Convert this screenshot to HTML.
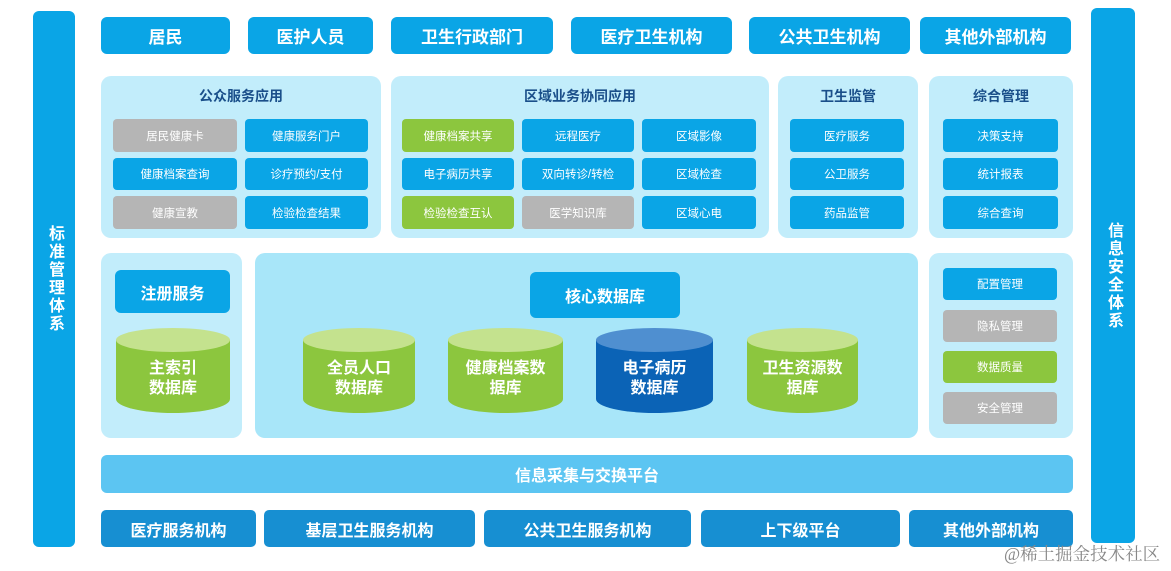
<!DOCTYPE html>
<html><head><meta charset="utf-8"><style>
body{margin:0;width:1171px;height:571px;background:#fff;position:relative;overflow:hidden;font-family:"Liberation Sans","Noto Sans CJK SC",sans-serif;}
.a{position:absolute;box-sizing:border-box;display:flex;align-items:center;justify-content:center;text-align:center;}
.t{background:#0aa5e6;color:#fff;font-weight:bold;font-size:17px;border-radius:6px;}
.p{background:#c2edfb;border-radius:10px;}
.h{color:#1a4f8a;font-weight:bold;font-size:14px;}
.s{color:#fff;font-size:11.5px;border-radius:4px;background:#0aa5e6;}
.g{background:#b5b5b5;}
.gr{background:#8cc63e;}
.v{background:#0aa5e6;color:#fff;font-weight:bold;font-size:16px;border-radius:6px;writing-mode:vertical-rl;letter-spacing:2px;}
.b{background:#178fd2;color:#fff;font-weight:bold;font-size:16px;border-radius:5px;}
.cyl{position:absolute;}
.cyl .body{position:absolute;left:0;right:0;top:12px;bottom:0;border-radius:0 0 50% 50%/0 0 14px 14px;}
.cyl .top{position:absolute;left:0;right:0;top:0;height:24px;border-radius:50%;}
.cyl .lb{position:absolute;left:0;right:0;top:26px;bottom:10px;display:flex;align-items:center;justify-content:center;color:#fff;font-weight:bold;font-size:16px;line-height:20px;text-align:center;}
.gc .body{background:#8cc63e}.gc .top{background:#c4e28e}
.bc .body{background:#0b63b6}.bc .top{background:#4f8fd0}
</style></head><body>
<div class="a v" style="left:33px;top:11px;width:42px;height:536px;">标准管理体系</div>
<div class="a v" style="left:1091px;top:8px;width:44px;height:535px;">信息安全体系</div>

<div class="a t" style="left:101px;top:17px;width:129px;height:37px;">居民</div>
<div class="a t" style="left:248px;top:17px;width:125px;height:37px;">医护人员</div>
<div class="a t" style="left:391px;top:17px;width:162px;height:37px;">卫生行政部门</div>
<div class="a t" style="left:571px;top:17px;width:161px;height:37px;">医疗卫生机构</div>
<div class="a t" style="left:749px;top:17px;width:161px;height:37px;">公共卫生机构</div>
<div class="a t" style="left:920px;top:17px;width:151px;height:37px;">其他外部机构</div>

<div class="a p" style="left:101px;top:76px;width:280px;height:162px;"></div>
<div class="a p" style="left:391px;top:76px;width:378px;height:162px;"></div>
<div class="a p" style="left:778px;top:76px;width:140px;height:162px;"></div>
<div class="a p" style="left:929px;top:76px;width:144px;height:162px;"></div>
<div class="a h" style="left:101px;top:86px;width:280px;height:20px;">公众服务应用</div>
<div class="a h" style="left:391px;top:86px;width:378px;height:20px;">区域业务协同应用</div>
<div class="a h" style="left:778px;top:86px;width:140px;height:20px;">卫生监管</div>
<div class="a h" style="left:929px;top:86px;width:144px;height:20px;">综合管理</div>

<div class="a s g" style="left:113px;top:119px;width:124px;height:33px;">居民健康卡</div>
<div class="a s" style="left:245px;top:119px;width:123px;height:33px;">健康服务门户</div>
<div class="a s" style="left:113px;top:158px;width:124px;height:32px;">健康档案查询</div>
<div class="a s" style="left:245px;top:158px;width:123px;height:32px;">诊疗预约/支付</div>
<div class="a s g" style="left:113px;top:196px;width:124px;height:33px;">健康宣教</div>
<div class="a s" style="left:245px;top:196px;width:123px;height:33px;">检验检查结果</div>

<div class="a s gr" style="left:402px;top:119px;width:112px;height:33px;">健康档案共享</div>
<div class="a s" style="left:522px;top:119px;width:112px;height:33px;">远程医疗</div>
<div class="a s" style="left:642px;top:119px;width:114px;height:33px;">区域影像</div>
<div class="a s" style="left:402px;top:158px;width:112px;height:32px;">电子病历共享</div>
<div class="a s" style="left:522px;top:158px;width:112px;height:32px;">双向转诊/转检</div>
<div class="a s" style="left:642px;top:158px;width:114px;height:32px;">区域检查</div>
<div class="a s gr" style="left:402px;top:196px;width:112px;height:33px;">检验检查互认</div>
<div class="a s g" style="left:522px;top:196px;width:112px;height:33px;">医学知识库</div>
<div class="a s" style="left:642px;top:196px;width:114px;height:33px;">区域心电</div>

<div class="a s" style="left:790px;top:119px;width:114px;height:33px;">医疗服务</div>
<div class="a s" style="left:790px;top:158px;width:114px;height:32px;">公卫服务</div>
<div class="a s" style="left:790px;top:196px;width:114px;height:33px;">药品监管</div>
<div class="a s" style="left:943px;top:119px;width:115px;height:33px;">决策支持</div>
<div class="a s" style="left:943px;top:158px;width:115px;height:32px;">统计报表</div>
<div class="a s" style="left:943px;top:196px;width:115px;height:33px;">综合查询</div>

<div class="a p" style="left:101px;top:253px;width:141px;height:185px;"></div>
<div class="a p" style="left:255px;top:253px;width:663px;height:185px;background:#a8e6f9;"></div>
<div class="a p" style="left:929px;top:253px;width:144px;height:185px;"></div>

<div class="a t" style="left:115px;top:270px;width:115px;height:43px;font-size:16px;">注册服务</div>
<div class="a t" style="left:530px;top:272px;width:150px;height:46px;font-size:16px;">核心数据库</div>

<div class="cyl gc" style="left:116px;top:328px;width:114px;height:85px;"><div class="body"></div><div class="top"></div><div class="lb">主索引<br>数据库</div></div>
<div class="cyl gc" style="left:303px;top:328px;width:112px;height:85px;"><div class="body"></div><div class="top"></div><div class="lb">全员人口<br>数据库</div></div>
<div class="cyl gc" style="left:448px;top:328px;width:115px;height:85px;"><div class="body"></div><div class="top"></div><div class="lb">健康档案数<br>据库</div></div>
<div class="cyl bc" style="left:596px;top:328px;width:117px;height:85px;"><div class="body"></div><div class="top"></div><div class="lb">电子病历<br>数据库</div></div>
<div class="cyl gc" style="left:747px;top:328px;width:111px;height:85px;"><div class="body"></div><div class="top"></div><div class="lb">卫生资源数<br>据库</div></div>

<div class="a s" style="left:943px;top:268px;width:114px;height:32px;">配置管理</div>
<div class="a s g" style="left:943px;top:310px;width:114px;height:32px;">隐私管理</div>
<div class="a s gr" style="left:943px;top:351px;width:114px;height:32px;">数据质量</div>
<div class="a s g" style="left:943px;top:392px;width:114px;height:32px;">安全管理</div>

<div class="a" style="left:101px;top:455px;width:972px;height:38px;background:#5cc5f2;border-radius:6px;color:#fff;font-weight:bold;font-size:16px;">信息采集与交换平台</div>

<div class="a b" style="left:101px;top:510px;width:155px;height:37px;">医疗服务机构</div>
<div class="a b" style="left:264px;top:510px;width:211px;height:37px;">基层卫生服务机构</div>
<div class="a b" style="left:484px;top:510px;width:207px;height:37px;">公共卫生服务机构</div>
<div class="a b" style="left:701px;top:510px;width:199px;height:37px;">上下级平台</div>
<div class="a b" style="left:909px;top:510px;width:164px;height:37px;">其他外部机构</div>

<div style="position:absolute;left:1004px;top:541px;font-family:'Liberation Serif','Noto Serif CJK SC',serif;font-size:17.5px;color:#888;">@稀土掘金技术社区</div>
</body></html>
